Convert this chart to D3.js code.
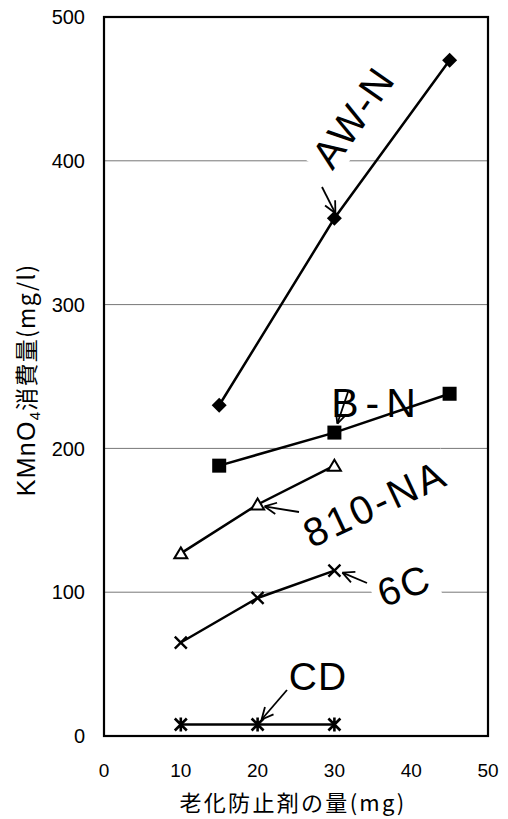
<!DOCTYPE html>
<html><head><meta charset="utf-8">
<script src="https://cdn.jsdelivr.net/npm/d3@7"></script>
<style>body{margin:0;background:#fff}svg{display:block}</style>
</head><body>
<script>
const xTicks = [0, 10, 20, 30, 40, 50];
const yTicks = [0, 100, 200, 300, 400, 500];
const seriesNames = ["AW-N", "B-N", "810-NA", "6C", "CD"];
const awnX = [15, 30, 45], awnY = [230, 360, 470];
const bnX = [15, 30, 45], bnY = [188, 211, 238];
const naX = [10, 20, 30], naY = [127, 161, 188];
const c6X = [10, 20, 30], c6Y = [65, 96, 115];
const cdX = [10, 20, 30], cdY = [8, 8, 8];
const markers = ["diamond", "square", "triangle", "cross", "asterisk"];
const labelPoint = [1, 1, 1, 2, 1];

const W = 508, H = 819;
const m = {l: 104, r: 20, t: 17, b: 83};
const svg = d3.select("body").append("svg").attr("width", W).attr("height", H);
const x = d3.scaleLinear().domain([0, 50]).range([m.l, W - m.r]);
const y = d3.scaleLinear().domain([0, 500]).range([H - m.b, m.t]);
const latin = "'Liberation Sans', Arial, sans-serif";
const cjk = "'Noto Sans CJK JP', sans-serif";

svg.append("g").selectAll("line").data(yTicks.filter(v => v > 0 && v < 500)).join("line")
  .attr("x1", x(0)).attr("x2", x(50)).attr("y1", d => y(d)).attr("y2", d => y(d))
  .attr("stroke", "#777").attr("stroke-width", 1);

svg.append("g").selectAll("text").data(yTicks).join("text")
  .attr("x", x(0) - 19).attr("y", d => y(d)).attr("dy", "0.36em")
  .attr("text-anchor", "end").attr("font-family", latin).attr("font-size", 20)
  .text(d => d);
svg.append("g").selectAll("text").data(xTicks).join("text")
  .attr("x", d => x(d)).attr("y", H - m.b + 41)
  .attr("text-anchor", "middle").attr("font-family", latin).attr("font-size", 19)
  .text(d => d);

function fitSpacing(t, target, n) {
  const len = t.node().getComputedTextLength();
  t.attr("letter-spacing", Math.max(0, (target - len) / n));
}

const yl = svg.append("text")
  .attr("transform", `translate(35,380) rotate(-90)`)
  .attr("text-anchor", "middle").attr("font-family", cjk).attr("font-size", 23);
yl.append("tspan").attr("font-family", latin).attr("font-size", 25).text("KMnO");
yl.append("tspan").attr("font-family", latin).attr("font-size", 15).attr("dy", 5).text("4");
yl.append("tspan").attr("dy", -5).text("消費量(mg/l)");
fitSpacing(yl, 235, 16);

const xl = svg.append("text").attr("x", 293).attr("y", 811)
  .attr("text-anchor", "middle").attr("font-family", cjk).attr("font-size", 22)
  .text("老化防止剤の量(mg)");
fitSpacing(xl, 227, 11);

const series = [
  {xs: awnX, ys: awnY}, {xs: bnX, ys: bnY}, {xs: naX, ys: naY},
  {xs: c6X, ys: c6Y}, {xs: cdX, ys: cdY}
].map((s, i) => ({name: seriesNames[i], marker: markers[i],
  pts: s.xs.map((v, j) => [v, s.ys[j]])}));

const labels = [
  {cx: 353, cy: 117, rot: -55, size: 40, ls: 2},
  {cx: 377, cy: 402, rot: 0, size: 41, ls: 7},
  {cx: 375, cy: 503, rot: -25, size: 40, ls: 3},
  {cx: 404, cy: 585, rot: -20, size: 39, ls: 2},
  {cx: 318, cy: 676, rot: 0, size: 39, ls: 1}
];
const arrows = [
  {from: [322, 187], off: [1, -5]},
  {from: [348, 392], off: [3, -9]},
  {from: [299, 512], off: [7, 2]},
  {from: [367, 583], off: [8, 2]},
  {from: [287, 690], off: [4, -5]}
];

const labG = svg.append("g");
const lineG = svg.append("g");
const textG = svg.append("g");

series.forEach((s, i) => {
  const L = labels[i];
  const g = textG.append("g").attr("transform", `translate(${L.cx},${L.cy}) rotate(${L.rot})`);
  const t = g.append("text").attr("text-anchor", "middle").attr("dy", "0.36em")
    .attr("font-family", latin).attr("font-size", L.size)
    .attr("letter-spacing", L.ls).text(s.name);
  const bb = t.node().getBBox();
  labG.append("rect").attr("transform", `translate(${L.cx},${L.cy}) rotate(${L.rot})`)
    .attr("x", bb.x - 6).attr("y", bb.y).attr("width", bb.width + 12).attr("height", bb.height)
    .attr("fill", "#fff");
});

const line = d3.line().x(d => x(d[0])).y(d => y(d[1]));
series.forEach(s => {
  lineG.append("path").attr("d", line(s.pts)).attr("fill", "none")
    .attr("stroke", "#000").attr("stroke-width", 2.5);
});

series.forEach((s, i) => {
  const p = s.pts[labelPoint[i]];
  const tx = x(p[0]) + arrows[i].off[0], ty = y(p[1]) + arrows[i].off[1];
  const [fx, fy] = arrows[i].from;
  const ang = Math.atan2(ty - fy, tx - fx);
  const g = lineG.append("g").attr("stroke", "#000").attr("stroke-width", 1.8).attr("fill", "none");
  g.append("line").attr("x1", fx).attr("y1", fy).attr("x2", tx).attr("y2", ty);
  [-0.45, 0.45].forEach(a => {
    g.append("line").attr("x1", tx).attr("y1", ty)
      .attr("x2", tx - 13 * Math.cos(ang + a)).attr("y2", ty - 13 * Math.sin(ang + a));
  });
});

const mk = svg.append("g");
series.forEach(s => {
  s.pts.forEach(p => {
    const cx = x(p[0]), cy = y(p[1]);
    const g = mk.append("g").attr("transform", `translate(${cx},${cy})`);
    if (s.marker === "diamond") {
      g.append("path").attr("d", "M0,-7.5L7.5,0L0,7.5L-7.5,0Z").attr("fill", "#000");
    } else if (s.marker === "square") {
      g.append("rect").attr("x", -7).attr("y", -7).attr("width", 14).attr("height", 14).attr("fill", "#000");
    } else if (s.marker === "triangle") {
      g.append("path").attr("d", "M0,-6L6.5,5L-6.5,5Z").attr("fill", "#fff").attr("stroke", "#000").attr("stroke-width", 2);
    } else if (s.marker === "cross") {
      g.append("path").attr("d", "M-6,-6L6,6M-6,6L6,-6").attr("stroke", "#000").attr("stroke-width", 2.4);
    } else {
      g.append("path").attr("d", "M-6,-6L6,6M-6,6L6,-6M0,-7L0,7").attr("stroke", "#000").attr("stroke-width", 2.6);
    }
  });
});

svg.append("rect").attr("x", x(0)).attr("y", y(500)).attr("width", x(50) - x(0)).attr("height", y(0) - y(500))
  .attr("fill", "none").attr("stroke", "#000").attr("stroke-width", 2.2);
</script>
</body></html>
